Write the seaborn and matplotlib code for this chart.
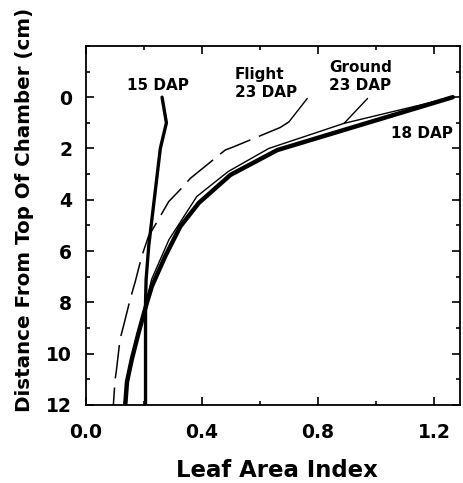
import numpy as np
import pandas as pd
import matplotlib
matplotlib.use("Agg")
import matplotlib.pyplot as plt
from matplotlib.ticker import MultipleLocator
import seaborn as sns

sns.set_theme(style="ticks")
plt.rcParams['font.family'] = ['DejaVu Sans']
plt.rcParams['font.weight'] = 'bold'
plt.rcParams['text.color'] = 'black'
plt.rcParams['axes.labelcolor'] = 'black'
plt.rcParams['axes.edgecolor'] = 'black'
plt.rcParams['xtick.color'] = 'black'
plt.rcParams['ytick.color'] = 'black'

## Data (LAI vs depth) ##

depth_15 = [0.0, 1.0, 2.0, 4.0, 5.8, 7.1, 8.0, 12.0]
lai_15 = [0.262, 0.277, 0.256, 0.235, 0.216, 0.207, 0.205, 0.205]

depth_18 = [0.0, 2.06, 3.03, 4.12, 5.04, 6.2, 7.37, 8.0, 9.18, 10.2, 11.1, 12.0]
lai_18 = [1.265, 0.66, 0.498, 0.389, 0.325, 0.273, 0.227, 0.21, 0.181, 0.158, 0.141, 0.135]

depth_ground = [0.0, 1.02, 2.0, 2.9, 3.87, 5.55, 7.1, 8.0, 9.18, 10.2, 11.1, 12.0]
lai_ground = [1.265, 0.89, 0.63, 0.49, 0.382, 0.286, 0.226, 0.207, 0.178, 0.155, 0.138, 0.132]

depth_flight = [0.96, 1.18, 1.93, 2.06, 3.16, 3.6, 4.07, 4.97, 5.4, 6.2, 7.17, 7.88, 8.92, 9.44, 10.7, 11.0, 12.0]
lai_flight = [0.70, 0.67, 0.51, 0.48, 0.36, 0.325, 0.285, 0.239, 0.216, 0.192, 0.17, 0.152, 0.129, 0.117, 0.104, 0.1, 0.094]

df15 = pd.DataFrame({'LAI': lai_15, 'Depth': depth_15})
df18 = pd.DataFrame({'LAI': lai_18, 'Depth': depth_18})
dfg = pd.DataFrame({'LAI': lai_ground, 'Depth': depth_ground})
dff = pd.DataFrame({'LAI': lai_flight, 'Depth': depth_flight})

fig = plt.figure(figsize=(4.63, 4.83), dpi=100)
ax = fig.add_axes([0.186, 0.1615, 0.8075, 0.7435])

sns.lineplot(data=df18, x='LAI', y='Depth', sort=False, estimator=None,
             color='black', linewidth=3.2, ax=ax)
sns.lineplot(data=dfg, x='LAI', y='Depth', sort=False, estimator=None,
             color='black', linewidth=1.0, ax=ax)
sns.lineplot(data=df15, x='LAI', y='Depth', sort=False, estimator=None,
             color='black', linewidth=2.4, ax=ax)
sns.lineplot(data=dff, x='LAI', y='Depth', sort=False, estimator=None,
             color='black', linewidth=1.1, ax=ax)
ax.lines[-1].set_linestyle((0, (22, 6)))

ax.set_xlim(0, 1.29)
ax.set_ylim(12, -2)
ax.xaxis.set_major_locator(MultipleLocator(0.4))
ax.xaxis.set_minor_locator(MultipleLocator(0.2))
ax.yaxis.set_major_locator(MultipleLocator(2))
ax.yaxis.set_minor_locator(MultipleLocator(1))
ax.set_yticks([0, 2, 4, 6, 8, 10, 12])
ax.tick_params(which='both', direction='in', top=True, right=True, width=1.2)
ax.tick_params(which='major', length=6, labelsize=13.5)
ax.tick_params(axis='x', which='major', pad=13)
ax.tick_params(axis='y', which='major', pad=10)
ax.tick_params(which='minor', length=3)
for lab in ax.get_xticklabels() + ax.get_yticklabels():
    lab.set_fontweight('bold')
for s in ax.spines.values():
    s.set_linewidth(1.3)

ax.set_xlabel("Leaf Area Index", fontsize=16.4, fontweight='bold')
ax.set_ylabel("Distance From Top Of Chamber (cm)", fontsize=14.3, fontweight='bold')
ax.xaxis.set_label_coords(0.509, -0.150)
ax.yaxis.set_label_coords(-0.139, 0.543)

# labels and leaders
ax.text(0.14, -0.47, "15 DAP", fontsize=11, fontweight='bold', va='center', ha='left')
ax.text(0.512, -0.53, "Flight\n23 DAP", fontsize=11, fontweight='bold', va='center', ha='left', linespacing=1.25)
ax.text(0.838, -0.82, "Ground\n23 DAP", fontsize=11, fontweight='bold', va='center', ha='left', linespacing=1.25)
ax.text(1.052, 1.41, "18 DAP", fontsize=11, fontweight='bold', va='center', ha='left')
ax.plot([0.763, 0.70], [0.05, 0.96], color='black', linewidth=1.0)
ax.plot([0.971, 0.89], [0.05, 1.02], color='black', linewidth=1.0)

fig.savefig("out.png", dpi=100)
